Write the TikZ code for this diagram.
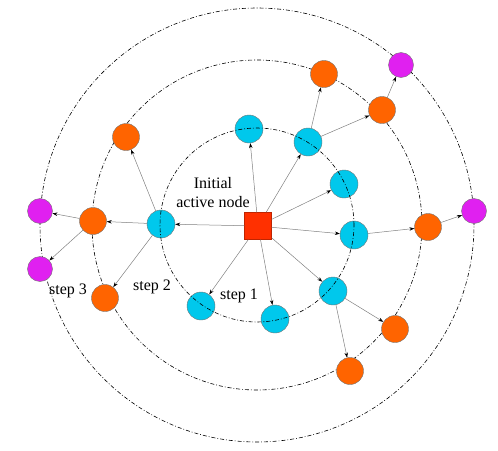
\documentclass[tikz,border=0pt]{standalone}
\usepackage{fontspec}
\setmainfont{Liberation Serif}
\usetikzlibrary{arrows.meta}
\definecolor{seedred}{HTML}{FF3000}
\definecolor{hopone}{HTML}{00C8EC}
\definecolor{hoptwo}{HTML}{FF6400}
\definecolor{hopthree}{HTML}{E020F0}
\begin{document}
\begin{tikzpicture}[
    x=1pt, y=-1pt,
    every node/.style={
      circle,
      draw=black!55,
      line width=0.4pt,
      inner sep=0pt
    },
    seed/.style={rectangle, fill=seedred, draw=seedred!75!black, minimum size=27pt},
    firsthop/.style={fill=hopone, minimum size=28pt},
    secondhop/.style={fill=hoptwo, minimum size=27pt},
    thirdhop/.style={fill=hopthree, minimum size=25pt},
    txt/.style={draw=none, rectangle, inner sep=1pt, font=\fontsize{16}{19}\selectfont, align=center},
    ring/.style={draw, line width=0.6pt, dash pattern=on 4pt off 2pt on 0.8pt off 2pt},
    every edge/.style={draw, black!50, line width=0.5pt, -{Stealth[length=5pt, width=3.5pt, black]}}
  ]
    \useasboundingbox (0,0) rectangle (498,450);
    \coordinate (hub) at (257,225);
    \draw[ring] (hub) circle (165pt);
    \draw[ring] (hub) circle (217pt);

    \node[seed] (start) at (258,226) {};
    % step 1
    \node[firsthop] (one1) at (249,129) {};
    \node[firsthop] (one2) at (308,142) {};
    \node[firsthop] (one3) at (344,184) {};
    \node[firsthop] (one4) at (354,235) {};
    \node[firsthop] (one5) at (333,291) {};
    \node[firsthop] (one6) at (275,319) {};
    \node[firsthop] (one7) at (201,306) {};
    \node[firsthop] (one8) at (161,224) {};
    % step 2
    \node[secondhop] (two1) at (126,137) {};
    \node[secondhop] (two2) at (93,221) {};
    \node[secondhop] (two3) at (105,298) {};
    \node[secondhop] (two4) at (324,74) {};
    \node[secondhop] (two5) at (382,110) {};
    \node[secondhop] (two6) at (428,227) {};
    \node[secondhop] (two7) at (395,329) {};
    \node[secondhop] (two8) at (350,371) {};
    % step 3
    \node[thirdhop] (three1) at (401,65) {};
    \node[thirdhop] (three2) at (474,211) {};
    \node[thirdhop] (three3) at (40,211) {};
    \node[thirdhop] (three4) at (40,269) {};

    \draw[ring] (hub) circle (97pt);

    \draw (start) edge (one1)
          (start) edge (one2)
          (start) edge (one3)
          (start) edge (one4)
          (start) edge (one5)
          (start) edge (one6)
          (start) edge (one7)
          (start) edge (one8);
    \draw (one8) edge (two1)
          (one8) edge (two2)
          (one8) edge (two3)
          (one2) edge (two4)
          (one2) edge (two5)
          (one4) edge (two6)
          (one5) edge (two7)
          (one5) edge (two8);
    \draw (two2) edge (three3)
          (two2) edge (three4)
          (two5) edge (three1)
          (two6) edge (three2);

    \node[txt] (seedlabel) at (213,193) {Initial\\active node};
    \node[txt] (steponelabel) at (239,296) {step 1};
    \node[txt] (steptwolabel) at (152,287) {step 2};
    \node[txt] (stepthreelabel) at (68,291) {step 3};
  \end{tikzpicture}
\end{document}
